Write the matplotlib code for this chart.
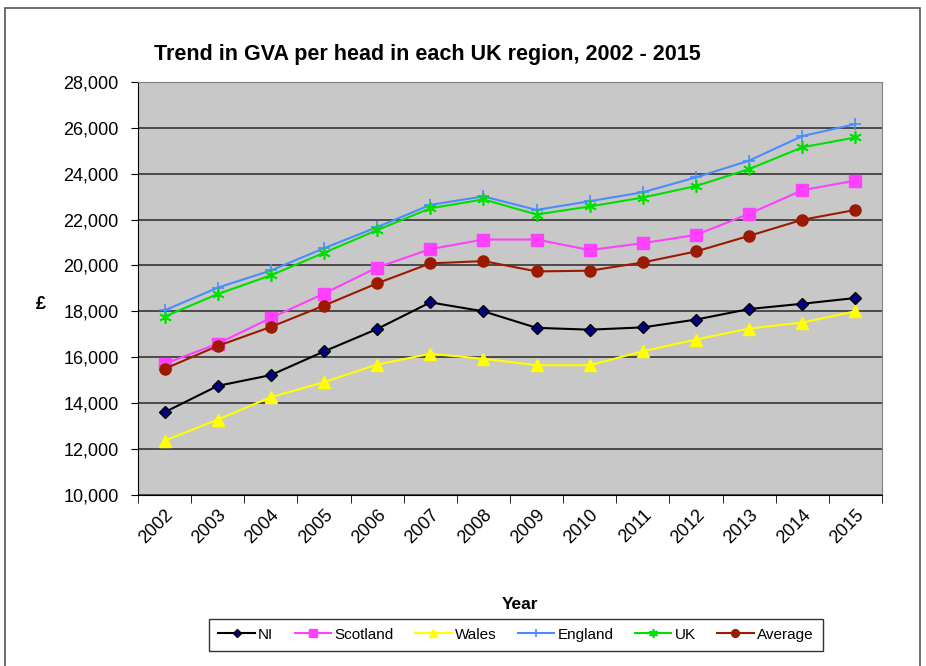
import matplotlib.pyplot as plt
from matplotlib.patches import Rectangle

plt.rcParams['font.family'] = ['Liberation Sans', 'DejaVu Sans']

# data
years = ['2002', '2003', '2004', '2005', '2006', '2007', '2008',
         '2009', '2010', '2011', '2012', '2013', '2014', '2015']
ni = [13600, 14750, 15220, 16250, 17230, 18390, 18000,
      17280, 17200, 17300, 17640, 18100, 18330, 18580]
scotland = [15710, 16590, 17710, 18770, 19910, 20710, 21130,
            21130, 20670, 20970, 21330, 22250, 23280, 23700]
wales = [12360, 13280, 14260, 14910, 15680, 16150, 15930,
         15650, 15650, 16260, 16770, 17250, 17510, 18000]
england = [18040, 19030, 19780, 20750, 21670, 22640, 23010,
           22420, 22800, 23190, 23840, 24570, 25640, 26160]
uk = [17770, 18750, 19570, 20550, 21540, 22490, 22880,
      22220, 22570, 22960, 23460, 24200, 25150, 25580]
average = [15490, 16490, 17320, 18250, 19220, 20090, 20190,
           19740, 19770, 20130, 20610, 21290, 21990, 22420]

fig = plt.figure(figsize=(9.26, 6.66), dpi=100)
ax = fig.add_axes([0.149, 0.257, 0.8035, 0.62])

# outer chart frame
fig.patches.append(Rectangle((0.005, -0.01), 0.989, 0.998, transform=fig.transFigure,
                             fill=False, edgecolor='#555555', linewidth=1.2))

x = list(range(len(years)))
ax.plot(x, ni, color='black', lw=1.5, marker='D', ms=6, mfc='#000080', mec='black', mew=1, label='NI')
ax.plot(x, scotland, color='#FF40FF', lw=1.5, marker='s', ms=8, label='Scotland')
ax.plot(x, wales, color='#FFFF00', lw=1.5, marker='^', ms=8, label='Wales')
ax.plot(x, england, color='#4A8CFF', lw=1.5, marker='+', ms=9, mew=1.2, label='England')
ax.plot(x, uk, color='#00E000', lw=1.5, marker=(6, 2, 0), ms=9, mew=1.2, label='UK')
ax.plot(x, average, color='#9B1A00', lw=1.5, marker='o', ms=8, label='Average')

ax.set_facecolor('#C8C8C8')
ax.set_xlim(-0.5, len(years) - 0.5)
ax.set_ylim(10000, 28000)
ax.set_yticks(range(10000, 28001, 2000))
ax.set_yticklabels([f'{v:,}' for v in range(10000, 28001, 2000)], fontsize=13)
ax.grid(True, axis='y', color='#404040', lw=1.3)
ax.set_axisbelow(True)

ax.set_xticks(x)
ax.set_xticklabels(years, rotation=45, ha='right', va='top', rotation_mode='anchor', fontsize=13)
ax.set_xticks([i - 0.5 for i in range(len(years) + 1)], minor=True)
ax.tick_params(axis='x', which='major', length=0, pad=8)
ax.tick_params(axis='x', which='minor', length=6, color='black')
ax.tick_params(axis='y', length=5, color='black', pad=9)

for s in ['top', 'right']:
    ax.spines[s].set_color('#808080')
for s in ['left', 'bottom']:
    ax.spines[s].set_color('black')

ax.set_ylabel('£', fontsize=13, fontweight='bold', rotation=0, va='center', ha='center')
ax.yaxis.set_label_coords(-0.131, 0.46)
ax.set_xlabel('Year', fontsize=12.5, fontweight='bold', va='center')
ax.xaxis.set_label_coords(0.513, -0.265)

fig.text(0.461, 0.918, 'Trend in GVA per head in each UK region, 2002 - 2015',
         fontsize=15.5, fontweight='bold', ha='center', va='center')

leg = fig.legend(loc='center', bbox_to_anchor=(0.557, 0.047), ncol=6, fontsize=11,
                 frameon=True, fancybox=False, edgecolor='black', handlelength=2.4,
                 handletextpad=0.2, columnspacing=1.4, borderpad=0.6, markerscale=0.7)
leg.get_frame().set_linewidth(1.0)

fig.savefig('out.png', dpi=100)
